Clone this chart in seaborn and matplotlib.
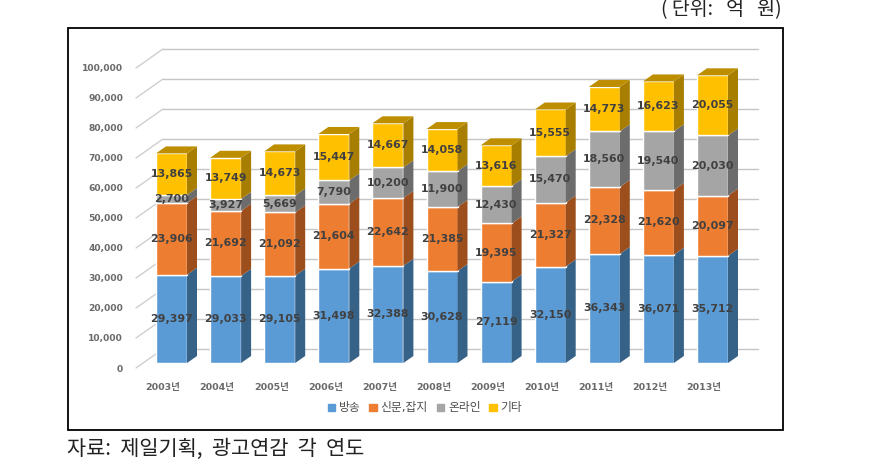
import numpy as np
import pandas as pd
import matplotlib.pyplot as plt
import matplotlib.patches as mpatches
import seaborn as sns

years = ['2003년', '2004년', '2005년', '2006년', '2007년', '2008년', '2009년', '2010년', '2011년', '2012년', '2013년']
broadcast = [29397, 29033, 29105, 31498, 32388, 30628, 27119, 32150, 36343, 36071, 35712]
print_media = [23906, 21692, 21092, 21604, 22642, 21385, 19395, 21327, 22328, 21620, 20097]
online = [2700, 3927, 5669, 7790, 10200, 11900, 12430, 15470, 18560, 19540, 20030]
other = [13865, 13749, 14673, 15447, 14667, 14058, 13616, 15555, 14773, 16623, 20055]

series_names = ['방송', '신문,잡지', '온라인', '기타']
series_values = [broadcast, print_media, online, other]
front_colors = ['#5B9BD5', '#ED7D31', '#A5A5A5', '#FFC000']
side_colors = ['#376288', '#9C4F1D', '#6C6C6C', '#A87E00']
top_colors = ['#4A80B0', '#C0652A', '#8A8A8A', '#BD8F00']
y_ticks = np.arange(0, 100001, 10000)

W, H = 886, 476
sns.set_theme(style='white')
plt.rcParams['font.family'] = ['DejaVu Sans', 'Noto Sans CJK KR']

fig = plt.figure(figsize=(W / 100, H / 100), dpi=100)


def px_axes(left, top, right, bottom):
    return fig.add_axes([left / W, 1 - bottom / H, (right - left) / W, (bottom - top) / H])


# pixel layout of the fake 3d plot
step = 54.1
wall_left, wall_right, wall_bottom, wall_top = 136, 731, 368, 68
first_tick = 163
xlim = ((wall_left - first_tick) / step, (wall_right - first_tick) / step)
per_px = 100000 / (wall_bottom - wall_top)

# front wall: ticks, labels and grid
wall = px_axes(wall_left, wall_top, wall_right, wall_bottom)
wall.set_xlim(xlim)
wall.set_ylim(0, 100000)
wall.set_xticks(range(len(years)), years)
wall.set_yticks(y_ticks, [f'{v:,}' for v in y_ticks])
wall.tick_params(axis='x', length=0, pad=10.7, labelsize=6.8, labelcolor='#505050')
wall.tick_params(axis='y', length=0, pad=9.2, labelsize=6.6, labelcolor='#505050')
for lab in wall.get_xticklabels() + wall.get_yticklabels():
    lab.set_fontweight('bold')
    lab.set_alpha(0.85)
sns.despine(ax=wall, left=True, bottom=True)
wall.patch.set_alpha(0)

back_dx, back_dy = 27 / step, 19 * per_px
back_right = (758 - first_tick) / step
for v in y_ticks:
    wall.plot([xlim[0], xlim[0] + back_dx], [v, v + back_dy], color='#CFCFCF', lw=1, clip_on=False)
    wall.plot([xlim[0] + back_dx, back_right], [v + back_dy, v + back_dy], color='#C6C6C6', lw=1, clip_on=False)

# bars sit a little deeper than the front wall
ax = px_axes(wall_left + 8.5, wall_top - 5, wall_right + 8.5, wall_bottom - 5)
ax.patch.set_alpha(0)
bar_w = 31 / step
depth_x, depth_y = 10 / step, 7 * per_px

bottoms = np.zeros(len(years))
for name, vals, fc, sc, tc in zip(series_names, series_values, front_colors, side_colors, top_colors):
    vals = np.array(vals)
    sns.barplot(x=years, y=vals, bottom=bottoms, color=fc, saturation=1, width=bar_w, label=name, ax=ax, legend=False)
    tops = bottoms + vals
    for i in range(len(years)):
        xr = i + bar_w / 2
        ax.fill([xr, xr + depth_x, xr + depth_x, xr],
                [bottoms[i], bottoms[i] + depth_y, tops[i] + depth_y, tops[i]], color=sc, lw=0)
        ax.text(i, bottoms[i] + vals[i] / 2, f'{vals[i]:,}', ha='center', va='center', fontsize=7.9,
                fontweight='bold', color='#404040', zorder=10)
    bottoms = tops

# only the top stack shows its lid
for i in range(len(years)):
    xl, xr = i - bar_w / 2, i + bar_w / 2
    ax.fill([xl, xr, xr + depth_x, xl + depth_x],
            [bottoms[i], bottoms[i], bottoms[i] + depth_y, bottoms[i] + depth_y], color=top_colors[3], lw=0)

ax.set_xlim(xlim)
ax.set_ylim(0, 100000)
ax.axis('off')

handles = [mpatches.Patch(color=c, label=n) for n, c in zip(series_names, front_colors)]
fig.legend(handles=handles, loc='center', bbox_to_anchor=(425 / W, 1 - 408 / H), ncol=4, frameon=False,
           fontsize=8.5, handlelength=0.6, handleheight=0.6, handletextpad=0.35, columnspacing=0.75,
           labelcolor='#505050')

# chart frame
fig.add_artist(mpatches.Rectangle((68 / W, 1 - 430 / H), (782.5 - 68) / W, (430 - 28) / H, fill=False,
                                  edgecolor='black', lw=1.3, transform=fig.transFigure))

kor = ['Noto Sans CJK KR', 'DejaVu Sans']
fig.text(782 / W, 1 - 10 / H, '( 단위:   억   원)', ha='right', va='center', fontsize=14, family=kor, color='#222222')
fig.text(67 / W, 1 - 449 / H, '자료:  제일기획,  광고연감  각  연도', ha='left', va='center', fontsize=15, family=kor, color='#222222')

fig.savefig('out.png', dpi=100)
